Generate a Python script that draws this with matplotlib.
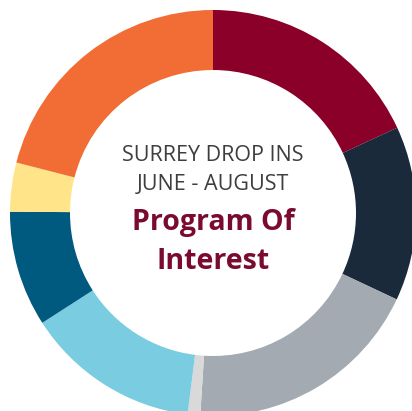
import matplotlib
matplotlib.use("Agg")
import matplotlib.pyplot as plt

# Segment shares (clockwise from top)
programs = ["Program A", "Program B", "Program C", "Program D",
            "Program E", "Program F", "Program G", "Program H"]
shares = [18.1, 13.9, 19.0, 1.0, 13.9, 9.2, 3.9, 21.0]
colors = ["#8A0029", "#1B2A3A", "#A3AAB1", "#D9D9D9",
          "#7ACDE0", "#005A80", "#FFE48A", "#F26D35"]

title1 = "SURREY DROP INS"
title2 = "JUNE - AUGUST"
title3 = "Program Of"
title4 = "Interest"

W, H = 412, 411
fig = plt.figure(figsize=(W / 100, H / 100), dpi=100)
ax = fig.add_axes([0, 0, 1, 1])
ax.set_xlim(0, W)
ax.set_ylim(H, 0)
ax.set_aspect("equal")
ax.axis("off")

cx, cy, r_out, r_in = 213, 213, 203, 143
ax.pie(shares, colors=colors, startangle=-90, counterclock=True,
       center=(cx, cy), radius=r_out, frame=True,
       wedgeprops=dict(width=r_out - r_in, linewidth=0))
ax.set_xlim(0, W)
ax.set_ylim(H, 0)
ax.axis("off")

fam = ["Open Sans", "DejaVu Sans"]
ax.text(cx, 155, title1, ha="center", va="center", fontsize=15.5,
        color="#3E3E3E", family=fam, fontweight="normal")
ax.text(cx, 184, title2, ha="center", va="center", fontsize=15.5,
        color="#3E3E3E", family=fam, fontweight="normal")
ax.text(cx, 222, title3, ha="center", va="center", fontsize=20.5,
        color="#7A0A2E", family=fam, fontweight="bold")
ax.text(cx, 261, title4, ha="center", va="center", fontsize=20.5,
        color="#7A0A2E", family=fam, fontweight="bold")

fig.savefig("out.png", dpi=100)
